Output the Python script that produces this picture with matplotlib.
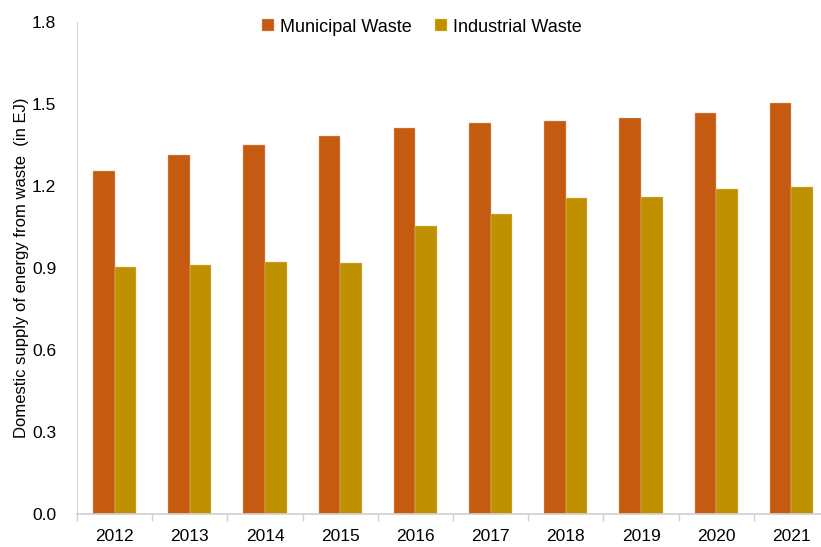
import matplotlib.pyplot as plt
import numpy as np

years = ['2012', '2013', '2014', '2015', '2016', '2017', '2018', '2019', '2020', '2021']
municipal = [1.255, 1.312, 1.349, 1.382, 1.413, 1.429, 1.437, 1.448, 1.466, 1.503]
industrial = [0.905, 0.912, 0.921, 0.917, 1.054, 1.098, 1.157, 1.160, 1.189, 1.196]

plt.rcParams['font.family'] = ['Liberation Sans', 'DejaVu Sans']

fig = plt.figure(figsize=(8.21, 5.47), dpi=100)
ax = fig.add_axes([77 / 821, 33 / 547, 752 / 821, 492 / 547])

x = np.arange(len(years))
w = 0.287
ax.bar(x - w / 2, municipal, w, color='#C55A11', edgecolor='#E8B592',
       linewidth=0.3, label='Municipal Waste')
ax.bar(x + w / 2, industrial, w, color='#BF9000', edgecolor='#E3CC80',
       linewidth=0.3, label='Industrial Waste')

ax.set_xlim(-0.5, len(years) - 0.5)
ax.set_ylim(0, 1.8)
ax.set_yticks(np.arange(0, 1.81, 0.3))
ax.set_yticklabels(['%.1f' % v for v in np.arange(0, 1.81, 0.3)])
ax.set_xticks(x)
ax.set_xticklabels(years)
ax.set_xticks(np.arange(-0.5, len(years), 1), minor=True)

ax.tick_params(axis='x', which='major', length=0, pad=11, labelsize=12.5)
ax.tick_params(axis='x', which='minor', length=5, color='#D0D0D0', width=1)
ax.tick_params(axis='y', length=0, pad=15, labelsize=12.5)

for side in ['top', 'right']:
    ax.spines[side].set_visible(False)
ax.spines['left'].set_color('#D9D9D9')
ax.spines['bottom'].set_color('#D0D0D0')
ax.spines['bottom'].set_linewidth(1.2)

ax.set_ylabel('Domestic supply of energy from waste  (in EJ)', fontsize=12, labelpad=2)

ax.legend(loc='upper center', bbox_to_anchor=(0.459, 1.04), ncol=2, frameon=False,
          fontsize=13, handlelength=0.65, handleheight=0.65, columnspacing=1.3,
          handletextpad=0.35)

fig.savefig('out.png', dpi=100)
